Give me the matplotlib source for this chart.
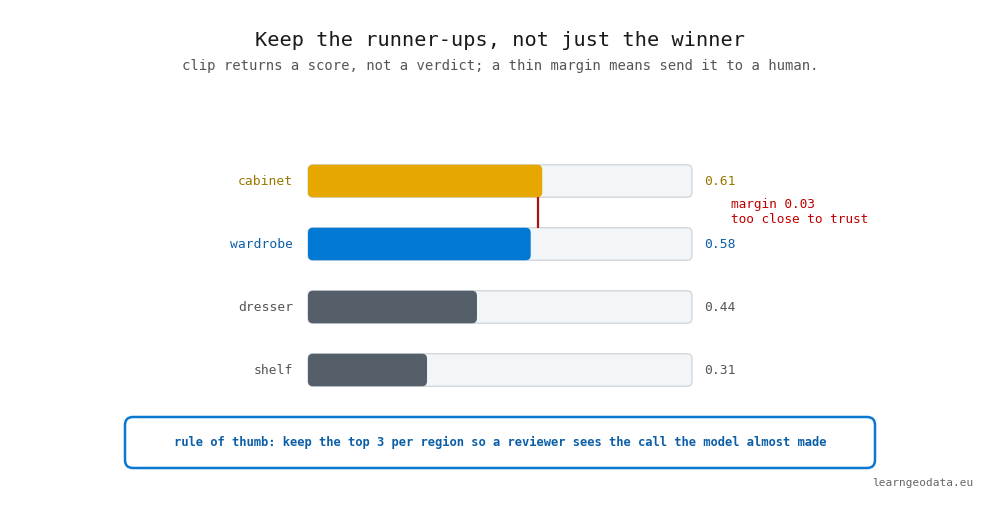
import matplotlib
matplotlib.use("Agg")
import matplotlib.pyplot as plt
from matplotlib.patches import FancyBboxPatch

categories = ["cabinet", "wardrobe", "dresser", "shelf"]
scores = [0.61, 0.58, 0.44, 0.31]
bar_colors = ["#e6a800", "#0078d4", "#555f69", "#555f69"]
label_colors = ["#9a7800", "#0b5ea8", "#555555", "#555555"]

title = "Keep the runner-ups, not just the winner"
subtitle = "clip returns a score, not a verdict; a thin margin means send it to a human."
note = "rule of thumb: keep the top 3 per region so a reviewer sees the call the model almost made"
footer = "learngeodata.eu"

FONT = ["DejaVu Sans Mono"]
plt.rcParams["font.family"] = FONT

W, H = 1000, 516
fig = plt.figure(figsize=(W / 100, H / 100), dpi=100)
fig.patch.set_facecolor("white")

# axes for bars: x 308..692 px, rows every 63 px starting at 181
left, right = 308, 692
row0, step = 181, 63
top_px = row0 - step / 2
bot_px = top_px + step * len(categories)
ax = fig.add_axes([left / W, 1 - bot_px / H, (right - left) / W, (bot_px - top_px) / H])
ax.set_xlim(0, 1)
ax.set_ylim(len(categories) - 0.5, -0.5)
ax.axis("off")

bh = 32.5 / step
aspect = (right - left) / step
r = 5 / (right - left)
for i, (c, v) in enumerate(zip(categories, scores)):
    track = FancyBboxPatch((0, i - bh / 2), 1, bh,
                           boxstyle=f"round,pad=0,rounding_size={r}",
                           mutation_aspect=aspect, facecolor="#f3f6f8",
                           edgecolor="#d3d8dd", linewidth=1.0, clip_on=False)
    ax.add_patch(track)
    bar = FancyBboxPatch((0, i - bh / 2), v, bh,
                         boxstyle=f"round,pad=0,rounding_size={r}",
                         mutation_aspect=aspect, facecolor=bar_colors[i],
                         edgecolor="none", clip_on=False)
    ax.add_patch(bar)
    ax.text(-15 / (right - left), i, c, ha="right", va="center",
            fontsize=9.4, color=label_colors[i], clip_on=False)
    ax.text(1 + 12 / (right - left), i, f"{v:.2f}", ha="left", va="center",
            fontsize=9.4, color=label_colors[i], clip_on=False)

# margin marker between top two
margin = scores[0] - scores[1]
mx = (scores[0] + scores[1]) / 2 + 0.004
ax.plot([mx, mx], [0 + bh / 2, 1 - bh / 2], color="#b01010", lw=1.6,
        solid_capstyle="butt", clip_on=False)
ax.text(1 + 39 / (right - left), 0.49, f"margin {margin:.2f}\ntoo close to trust",
        ha="left", va="center", fontsize=9.2, color="#c00000",
        linespacing=1.25, clip_on=False)

# titles
fig.text(0.5, 1 - 41 / H, title, ha="center", va="center", fontsize=14.6, color="#1a1a1a")
fig.text(0.5, 1 - 66 / H, subtitle, ha="center", va="center", fontsize=10.0, color="#555555")

# note box
box = FancyBboxPatch((125 / W, 1 - 468 / H), 750 / W, 51 / H,
                     boxstyle="round,pad=0,rounding_size=0.008",
                     mutation_aspect=W / H, transform=fig.transFigure,
                     facecolor="white", edgecolor="#0a78d0", linewidth=1.8)
fig.patches.append(box)
fig.text(0.5, 1 - 442 / H, note, ha="center", va="center", fontsize=8.7,
         color="#0b5ea8", fontweight="bold")

fig.text(973 / W, 1 - 483 / H, footer, ha="right", va="center", fontsize=8, color="#666666")

fig.savefig("out.png", dpi=100, facecolor="white")
